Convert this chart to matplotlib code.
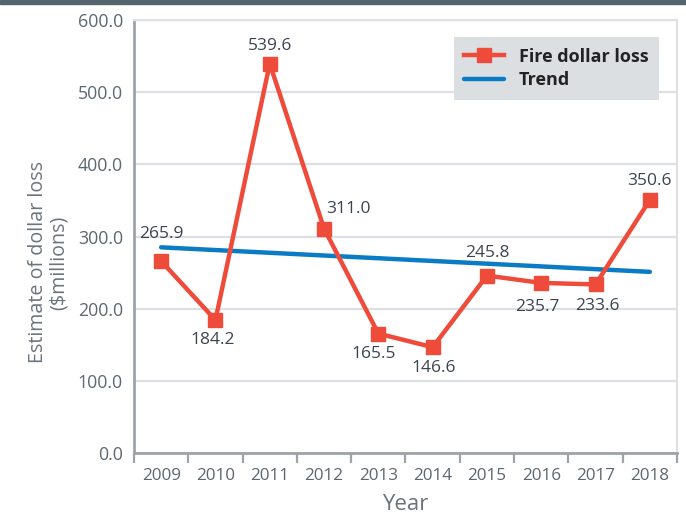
import matplotlib
matplotlib.use("Agg")
from matplotlib import pyplot as plt
from matplotlib.patches import Rectangle

plt.rcParams['font.family'] = ['Open Sans', 'DejaVu Sans']

years = [2009, 2010, 2011, 2012, 2013, 2014, 2015, 2016, 2017, 2018]
loss = [265.9, 184.2, 539.6, 311.0, 165.5, 146.6, 245.8, 235.7, 233.6, 350.6]
trend_years = [2009, 2018]
trend = [285.0, 251.0]
# label offsets in pixels (dx, dy), dy positive = up
label_offsets = [(0, 27), (-3, -20), (0, 18), (24, 20), (-5, -20),
                 (1, -21), (0, 23), (-4, -24), (2, -22), (0, 19)]

red = '#ee4b3a'
blue = '#0a7cc6'
px = 0.72  # points per pixel at 100 dpi

fig = plt.figure(figsize=(6.86, 5.18), dpi=100)
ax = fig.add_axes([134/686, 1 - 453/518, (677-134)/686, (453-20)/518])

# dark band at the top
fig.patches.append(Rectangle((0, 1 - 4/518), 1, 4/518, transform=fig.transFigure,
                             color='#56646e', zorder=0))

ax.plot(trend_years, trend, color=blue, lw=3.2, solid_capstyle='round',
        label='Trend', zorder=3)
ax.plot(years, loss, color=red, lw=3.2, marker='s', markersize=9.5,
        label='Fire dollar loss', zorder=4)

for x, y, (dx, dy) in zip(years, loss, label_offsets):
    ax.annotate(f'{y:.1f}', (x, y), xytext=(dx*px, dy*px), textcoords='offset points',
                ha='center', va='center', fontsize=12.5, color='#3b4450', zorder=5)

ax.set_xlim(2008.5, 2018.5)
ax.set_ylim(0, 600)
ax.set_yticks([0, 100, 200, 300, 400, 500, 600])
ax.set_yticklabels([f'{v:.1f}' for v in [0, 100, 200, 300, 400, 500, 600]])
ax.set_xticks(years)
ax.set_xticklabels([str(y) for y in years])
ax.set_xticks([y + 0.5 for y in [2008] + years], minor=True)
ax.tick_params(axis='x', which='major', length=0, pad=11, labelsize=12.3, labelcolor='#5d6770')
ax.tick_params(axis='x', which='minor', length=7, width=1.6, color='#9ea3a8')
ax.tick_params(axis='y', length=0, pad=8, labelsize=12.8, labelcolor='#5d6770')

ax.grid(axis='y', color='#dcdfe3', lw=1.6)
ax.set_axisbelow(True)
for s in ['left', 'bottom']:
    ax.spines[s].set_color('#9ea3a8')
    ax.spines[s].set_linewidth(2)
for s in ['top', 'right']:
    ax.spines[s].set_color('#dfe2e5')
    ax.spines[s].set_linewidth(1.6)

ax.set_xlabel('Year', fontsize=16, color='#6b747c', labelpad=7)
ax.set_ylabel('Estimate of dollar loss\n($millions)', fontsize=14.2, color='#6b747c',
              linespacing=1.05)
ax.yaxis.set_label_coords(-0.121, 0.44)

leg = ax.legend(handles=ax.get_lines()[::-1], loc='upper right',
                bbox_to_anchor=(0.967, 0.961), borderaxespad=0, frameon=True, fancybox=False,
                handlelength=2.2, handletextpad=0.8, borderpad=0.6, labelspacing=0.3,
                prop={'weight': 'bold', 'size': 13})
leg.get_frame().set_facecolor('#dcdfe2')
leg.get_frame().set_edgecolor('none')
leg.get_frame().set_alpha(1)
for t in leg.get_texts():
    t.set_color('#222222')

fig.savefig('out.png', dpi=100)
